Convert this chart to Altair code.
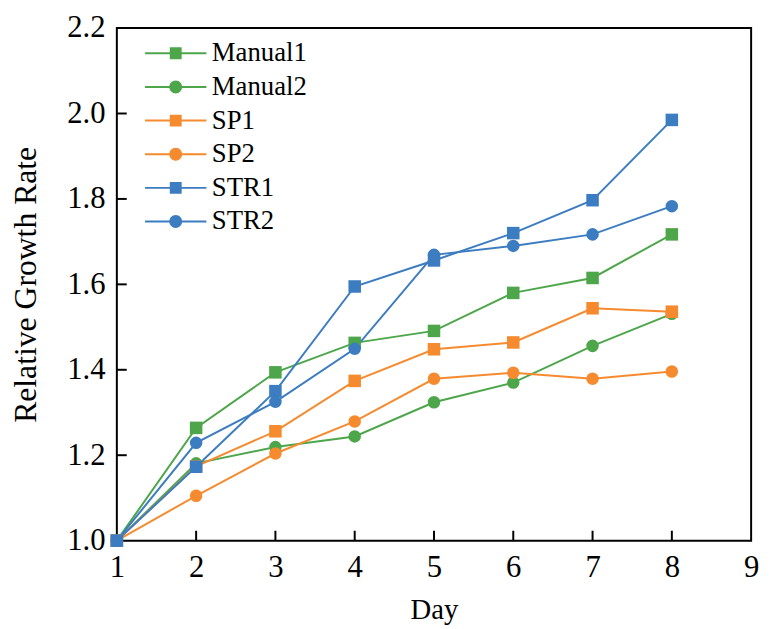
import altair as alt
import pandas as pd

days = [1, 2, 3, 4, 5, 6, 7, 8]
series_names = ["Manual1", "Manual2", "SP1", "SP2", "STR1", "STR2"]
manual1 = [1.0, 1.264, 1.394, 1.463, 1.491, 1.580, 1.615, 1.717]
manual2 = [1.0, 1.181, 1.219, 1.244, 1.324, 1.370, 1.456, 1.531]
sp1 = [1.0, 1.174, 1.256, 1.374, 1.448, 1.464, 1.544, 1.536]
sp2 = [1.0, 1.105, 1.204, 1.279, 1.379, 1.393, 1.379, 1.396]
str1 = [1.0, 1.173, 1.350, 1.595, 1.656, 1.720, 1.797, 1.985]
str2 = [1.0, 1.229, 1.325, 1.449, 1.669, 1.690, 1.717, 1.783]
series_values = [manual1, manual2, sp1, sp2, str1, str2]
markers = ["square", "circle", "square", "circle", "square", "circle"]
colors = ["#4ea64b", "#4ea64b", "#f68a2e", "#f68a2e", "#3c7cc0", "#3c7cc0"]
x_ticks = [1, 2, 3, 4, 5, 6, 7, 8, 9]
y_ticks = [1.0, 1.2, 1.4, 1.6, 1.8, 2.0, 2.2]

# legend symbols: line with square / circle marker (10 px per unit at symbolSize 400)
SQ = "M-3.1,-0.1H3.1V0.1H-3.1Z M-0.6,-0.6H0.6V0.6H-0.6Z"
CI = "M-3.1,-0.1H3.1V0.1H-3.1Z M0.65,0A0.65,0.65 0 1,1 -0.65,0A0.65,0.65 0 1,1 0.65,0Z"
legend_paths = [SQ if m == "square" else CI for m in markers]

rows = []
for name, vals, mk, col in zip(series_names, series_values, markers, colors):
    for d, v in zip(days, vals):
        rows.append({"series": name, "day": d, "value": v, "marker": mk, "hex": col})
df = pd.DataFrame(rows)

W, H = 641, 518
FONT = "Liberation Serif"

xs = alt.Scale(domain=[1, 9], nice=False)
ys = alt.Scale(domain=[1.0, 2.2], nice=False)

x_enc = alt.X("day:Q", scale=xs,
              axis=alt.Axis(values=x_ticks, format="d", title="Day", labelFlush=False,
                            labelPadding=12, titlePadding=14, titleFontSize=29))
y_enc = alt.Y("value:Q", scale=ys,
              axis=alt.Axis(values=y_ticks, format=".1f", title="Relative Growth Rate",
                            labelFlush=False, labelPadding=12, titlePadding=24,
                            titleFontSize=32))

base = alt.Chart(df)

lines = base.mark_line(strokeWidth=2).encode(
    x=x_enc, y=y_enc,
    color=alt.Color("hex:N", scale=None),
    detail="series:N",
    order="day:Q",
)

points = base.mark_point(filled=True, opacity=1, size=160).encode(
    x=alt.X("day:Q", scale=xs),
    y=alt.Y("value:Q", scale=ys),
    color=alt.Color("hex:N", scale=None),
    shape=alt.Shape("marker:N", scale=None),
    detail="series:N",
)

leg = alt.Legend(title=None, orient="none", legendX=46, legendY=12,
                 labelFont=FONT, labelFontSize=27, labelColor="black",
                 symbolSize=400, symbolStrokeWidth=0, symbolOpacity=1,
                 labelOffset=23, rowPadding=6)

legend_layer = base.transform_filter("false").mark_point(filled=True, opacity=1).encode(
    x=alt.X("day:Q", scale=xs),
    y=alt.Y("value:Q", scale=ys),
    color=alt.Color("series:N", scale=alt.Scale(domain=series_names, range=colors),
                    legend=leg),
    shape=alt.Shape("series:N", scale=alt.Scale(domain=series_names, range=legend_paths),
                    legend=leg),
)

xt = pd.DataFrame({"t": x_ticks[1:-1]})
yt = pd.DataFrame({"t": y_ticks[1:-1]})
xticks = alt.Chart(xt).mark_rule(color="black", strokeWidth=2).encode(
    x=alt.X("t:Q", scale=xs), y=alt.value(H), y2=alt.value(H - 10))
yticks = alt.Chart(yt).mark_rule(color="black", strokeWidth=2).encode(
    y=alt.Y("t:Q", scale=ys), x=alt.value(0), x2=alt.value(10))

chart = alt.layer(lines, points, legend_layer, xticks, yticks).properties(
    width=W, height=H,
    autosize=alt.AutoSizeParams(type="none"),
    padding={"left": 110, "top": 17, "right": 12, "bottom": 85},
).configure_view(
    stroke="black", strokeWidth=2
).configure_axis(
    domain=False, ticks=False, grid=False,
    labelFont=FONT, labelFontSize=31, labelColor="black",
    titleFont=FONT, titleFontWeight="normal", titleColor="black",
)

chart.save("out.html", embed_options={"renderer": "svg", "actions": False})
